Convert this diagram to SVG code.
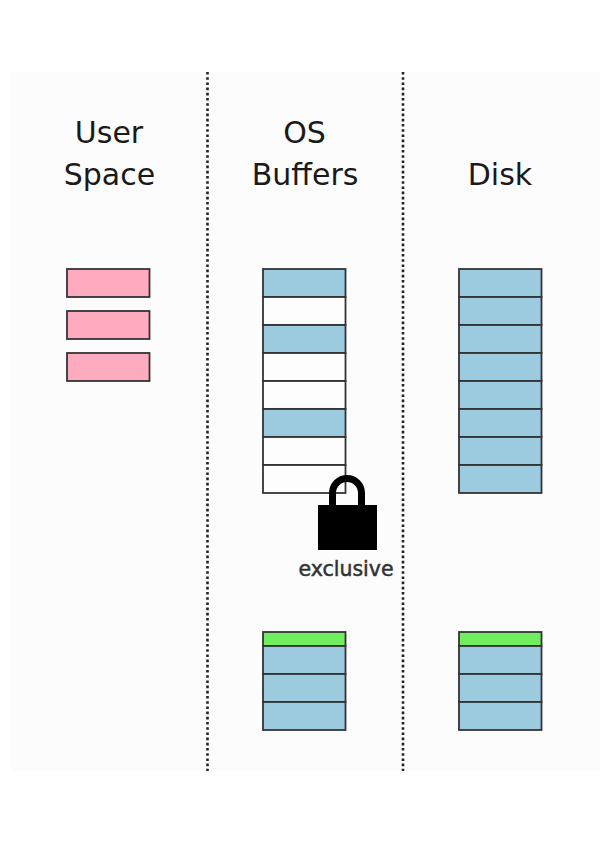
<svg xmlns="http://www.w3.org/2000/svg" width="608" height="850" viewBox="0 0 608 850">
<style>
text{font-family:"DejaVu Sans",sans-serif;fill:#1a1a1a;text-anchor:middle}
.h{font-size:30px}
.c{stroke:#333;stroke-width:1.8}
.p{fill:#ffabbf}.b{fill:#9ccbe0}.w{fill:#fdfdfd}.g{fill:#70ee60}
.d{stroke:#222;stroke-width:2.6;stroke-dasharray:2.6 2.6;fill:none}
</style>
<rect width="608" height="850" fill="#fff"/>
<rect x="11" y="72" width="589" height="699" fill="#fcfcfc"/>
<g id="connectors">
<line class="d" x1="207.500" y1="72" x2="207.500" y2="771"/>
<line class="d" x1="403" y1="72" x2="403" y2="771"/>
</g>
<g id="label-user-space"><text class="h" x="109" y="143">User</text><text class="h" x="109.500" y="185">Space</text></g>
<g id="label-os-buffers"><text class="h" x="304.500" y="143">OS</text><text class="h" x="305" y="185">Buffers</text></g>
<g id="label-disk"><text class="h" x="500" y="185">Disk</text></g>
<g id="user-blocks">
<rect class="c p" x="67" y="269" width="82.500" height="28"/>
<rect class="c p" x="67" y="311" width="82.500" height="28"/>
<rect class="c p" x="67" y="353" width="82.500" height="28"/>
</g>
<g id="os-blocks">
<rect class="c b" x="263" y="269" width="82.500" height="28"/>
<rect class="c w" x="263" y="297" width="82.500" height="28"/>
<rect class="c b" x="263" y="325" width="82.500" height="28"/>
<rect class="c w" x="263" y="353" width="82.500" height="28"/>
<rect class="c w" x="263" y="381" width="82.500" height="28"/>
<rect class="c b" x="263" y="409" width="82.500" height="28"/>
<rect class="c w" x="263" y="437" width="82.500" height="28"/>
<rect class="c w" x="263" y="465" width="82.500" height="28"/>
</g>
<g id="disk-blocks">
<rect class="c b" x="459" y="269" width="82.500" height="28"/>
<rect class="c b" x="459" y="297" width="82.500" height="28"/>
<rect class="c b" x="459" y="325" width="82.500" height="28"/>
<rect class="c b" x="459" y="353" width="82.500" height="28"/>
<rect class="c b" x="459" y="381" width="82.500" height="28"/>
<rect class="c b" x="459" y="409" width="82.500" height="28"/>
<rect class="c b" x="459" y="437" width="82.500" height="28"/>
<rect class="c b" x="459" y="465" width="82.500" height="28"/>
</g>
<g id="lock">
<rect x="318" y="505" width="59" height="45" fill="#000"/>
<path d="M332.500 506V493A14.500 14.500 0 0 1 361.500 493V506" fill="none" stroke="#000" stroke-width="7"/>
<text x="346" y="576" font-size="20.500" style="fill:#333;stroke:#333;stroke-width:.5">exclusive</text>
</g>
<g id="os-log">
<rect class="c g" x="263" y="632" width="82.500" height="14"/>
<rect class="c b" x="263" y="646" width="82.500" height="28"/>
<rect class="c b" x="263" y="674" width="82.500" height="28"/>
<rect class="c b" x="263" y="702" width="82.500" height="28"/>
</g>
<g id="disk-log">
<rect class="c g" x="459" y="632" width="82.500" height="14"/>
<rect class="c b" x="459" y="646" width="82.500" height="28"/>
<rect class="c b" x="459" y="674" width="82.500" height="28"/>
<rect class="c b" x="459" y="702" width="82.500" height="28"/>
</g>
</svg>
